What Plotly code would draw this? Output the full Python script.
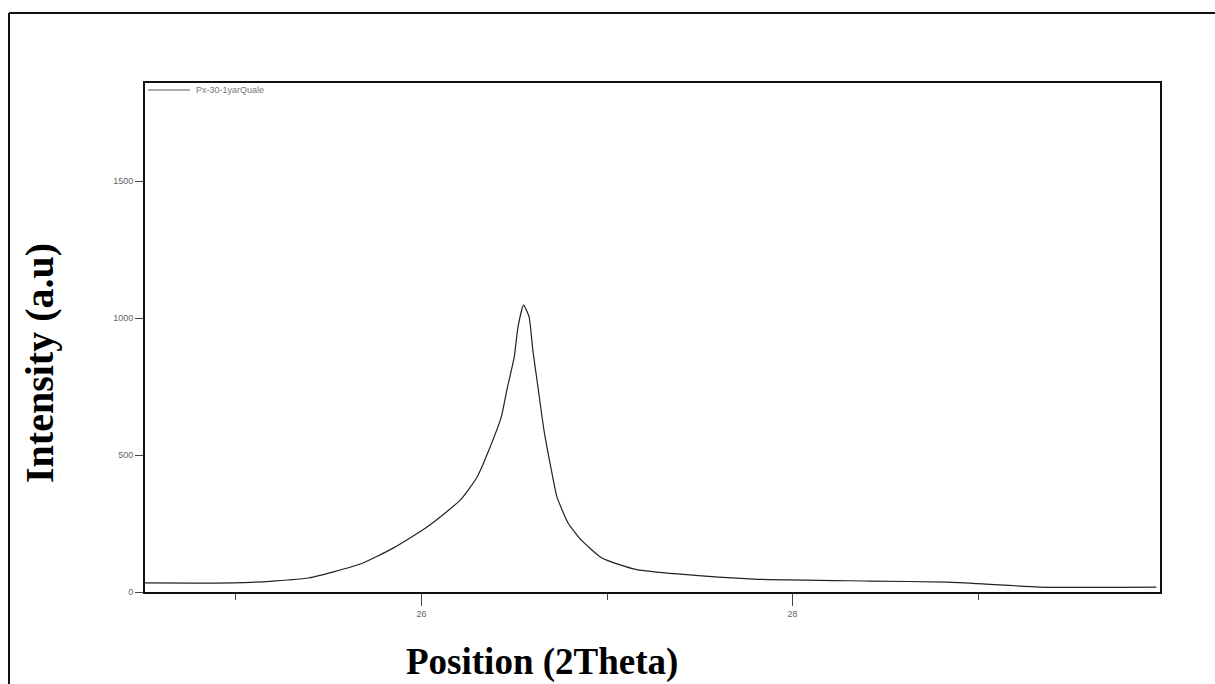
import plotly.graph_objects as go

# Data (2Theta, intensity)
two_theta = [24.51, 24.99, 25.20, 25.39, 25.67, 25.85, 26.03, 26.21, 26.30, 26.37,
             26.43, 26.46, 26.50, 26.52, 26.55, 26.58, 26.60, 26.63, 26.66, 26.70,
             26.73, 26.79, 26.86, 26.97, 27.07, 27.16, 27.38, 27.79, 28.42, 28.83,
             29.04, 29.33, 29.96]
intensity = [33, 33, 40, 51, 102, 161, 237, 336, 420, 529,
             639, 737, 858, 967, 1047, 1004, 883, 737, 591, 445,
             347, 252, 190, 125, 99, 82, 66, 47, 40, 36,
             29, 18, 18]
series_name = "Px-30-1yarQuale"
x_tickvals = [26, 28]
y_tickvals = [0, 500, 1000, 1500]

W, H = 1215, 684
L, R, T, B = 145, 55, 83, 92
pw, ph = W - L - R, H - T - B

def px(x):
    return (x - L) / pw

def py(y):
    return (H - B - y) / ph

fig = go.Figure()
fig.add_trace(go.Scatter(x=two_theta, y=intensity, mode="lines", name=series_name,
                         line=dict(color="#222222", width=1.2, shape="spline", smoothing=0.5),
                         showlegend=False))

fig.update_layout(
    width=W, height=H,
    margin=dict(l=L, r=R, t=T, b=B),
    paper_bgcolor="white", plot_bgcolor="white",
    xaxis=dict(range=[24.51, 29.98], tickvals=x_tickvals, ticks="outside", ticklen=12,
               tickcolor="#444", tickfont=dict(family="Arial", size=9, color="#666"),
               showgrid=False, zeroline=False, showline=True, linecolor="#111", linewidth=2,
               mirror=True,
               minor=dict(dtick=1, tick0=25, ticks="outside", ticklen=6, tickcolor="#444")),
    yaxis=dict(range=[0, 1858], tickvals=y_tickvals, ticks="outside", ticklen=8,
               tickcolor="#444", tickfont=dict(family="Arial", size=9, color="#666"),
               showgrid=False, zeroline=False, showline=True, linecolor="#111", linewidth=2,
               mirror=True),
)

# legend sample line + label
fig.add_shape(type="line", xref="paper", yref="paper", x0=px(148), x1=px(190), y0=py(90), y1=py(90),
              line=dict(color="#555", width=1))
fig.add_annotation(x=px(194), y=py(90), xref="paper", yref="paper", text=series_name,
                   showarrow=False, xanchor="left", yanchor="middle",
                   font=dict(family="Arial", size=9, color="#777"))

# axis titles
fig.add_annotation(x=px(542), y=py(662), xref="paper", yref="paper", text="<b>Position (2Theta)</b>",
                   showarrow=False, xanchor="center", yanchor="middle",
                   font=dict(family="Liberation Serif", size=37, color="black"))
fig.add_annotation(x=px(40), y=py(363), xref="paper", yref="paper", text="<b>Intensity (a.u)</b>",
                   showarrow=False, xanchor="center", yanchor="middle", textangle=-90,
                   font=dict(family="Liberation Serif", size=40, color="black"))

# outer frame (top and left edges)
fig.add_shape(type="line", xref="paper", yref="paper", x0=px(9), x1=px(1215), y0=py(13), y1=py(13),
              line=dict(color="#111", width=2))
fig.add_shape(type="line", xref="paper", yref="paper", x0=px(9), x1=px(9), y0=py(13), y1=py(684),
              line=dict(color="#111", width=2))

fig.write_html("out.html")
